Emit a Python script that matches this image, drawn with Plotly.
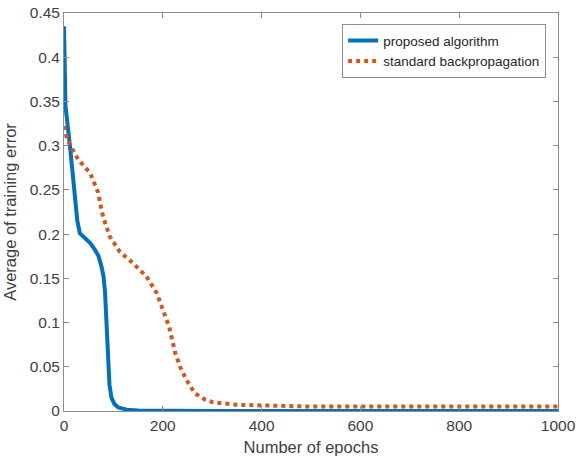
import plotly.graph_objects as go

# Data
epochs_prop = [0, 3, 12, 20, 24, 27, 32, 42, 53, 63, 70, 76, 80, 83, 85, 87, 89, 92, 96, 102, 110, 127, 150, 200, 300, 500, 1000]
err_prop = [0.435, 0.345, 0.300, 0.260, 0.235, 0.215, 0.201, 0.195, 0.190, 0.182, 0.175, 0.163, 0.152, 0.135, 0.110, 0.080, 0.055, 0.030, 0.015, 0.008, 0.004, 0.0015, 0.0006, 0.0002, 0.0001, 0.0001, 0.0001]

epochs_bp = [0, 5, 12, 29, 53, 69, 76, 80, 93, 113, 140, 167, 188, 201, 213, 225, 235, 248, 265, 285, 300, 350, 400, 500, 600, 800, 1000]
err_bp = [0.322, 0.310, 0.301, 0.284, 0.269, 0.247, 0.227, 0.218, 0.197, 0.180, 0.167, 0.152, 0.133, 0.114, 0.095, 0.066, 0.050, 0.035, 0.020, 0.013, 0.010, 0.007, 0.006, 0.005, 0.005, 0.005, 0.005]

x_ticks = [0, 200, 400, 600, 800, 1000]
y_ticks = [0, 0.05, 0.1, 0.15, 0.2, 0.25, 0.3, 0.35, 0.4, 0.45]
y_tick_labels = ["0", "0.05", "0.1", "0.15", "0.2", "0.25", "0.3", "0.35", "0.4", "0.45"]

FONT = "Liberation Sans, Arial"

fig = go.Figure()
fig.add_trace(go.Scatter(x=epochs_prop, y=err_prop, mode="lines", name="proposed algorithm",
                         line=dict(color="#0072BD", width=4)))
fig.add_trace(go.Scatter(x=epochs_bp, y=err_bp, mode="lines", name="standard backpropagation",
                         line=dict(color="#D95319", width=4, dash="4px,4px")))

axis_common = dict(showgrid=False, zeroline=False, showline=True, linecolor="#8c8c8c", linewidth=1,
                   mirror="ticks", ticks="inside", ticklen=5, tickcolor="#8c8c8c", automargin=False,
                   tickfont=dict(family=FONT, size=15.5, color="#404040"))

fig.update_xaxes(range=[0, 1000], tickvals=x_ticks,
                 title=dict(text="Number of epochs", font=dict(family=FONT, size=16.5, color="#404040"), standoff=8),
                 **axis_common)
fig.update_yaxes(range=[0, 0.45], tickvals=y_ticks, ticktext=y_tick_labels,
                 title=dict(text="Average of training error", font=dict(family=FONT, size=16.5, color="#404040"), standoff=8),
                 **axis_common)

fig.update_layout(
    width=576, height=462,
    margin=dict(l=64, r=18, t=13, b=51),
    plot_bgcolor="white", paper_bgcolor="white",
    legend=dict(x=0.976, y=0.972, xanchor="right", yanchor="top",
                bordercolor="#8c8c8c", borderwidth=1, bgcolor="white",
                font=dict(family=FONT, size=13.5, color="#262626"),
                tracegroupgap=0),
    showlegend=True,
)

fig.write_html("out.html")
